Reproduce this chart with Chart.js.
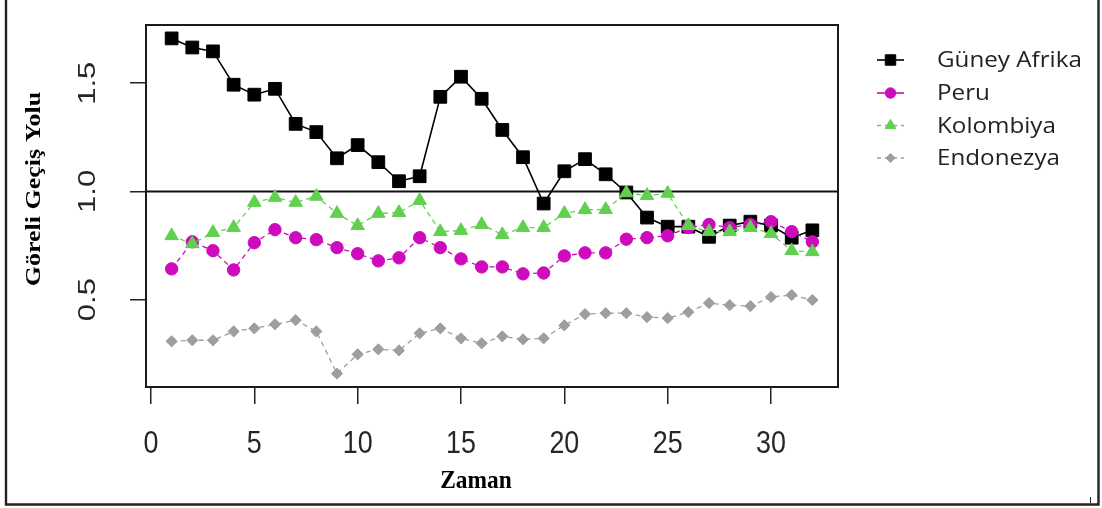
<!DOCTYPE html>
<html>
<head>
<meta charset="utf-8">
<script src="https://cdn.jsdelivr.net/npm/chart.js@4/dist/chart.umd.min.js"></script>
<style>
  html, body { margin: 0; padding: 0; background: #ffffff; }
  #wrap { width: 1102px; height: 508px; position: relative; }
  canvas { display: block; }
</style>
</head>
<body>
<div id="wrap"><canvas id="chart" width="1102" height="508"></canvas></div>
<script>
// Time index and relative transmission path per country
const timePoints = [1,2,3,4,5,6,7,8,9,10,11,12,13,14,15,16,17,18,19,20,21,22,23,24,25,26,27,28,29,30,31,32];
const guneyAfrika = [1.707,1.665,1.647,1.493,1.447,1.474,1.312,1.274,1.153,1.214,1.135,1.047,1.070,1.437,1.530,1.428,1.284,1.158,0.944,1.093,1.149,1.079,0.995,0.879,0.837,0.837,0.790,0.842,0.860,0.842,0.786,0.820];
const peru        = [0.642,0.767,0.726,0.637,0.763,0.823,0.786,0.777,0.740,0.712,0.679,0.693,0.786,0.740,0.688,0.651,0.651,0.619,0.623,0.702,0.716,0.716,0.779,0.786,0.795,0.833,0.847,0.833,0.847,0.860,0.814,0.767];
const kolombiya   = [0.795,0.758,0.810,0.833,0.949,0.972,0.949,0.977,0.898,0.842,0.898,0.902,0.958,0.814,0.819,0.847,0.800,0.833,0.833,0.898,0.916,0.916,0.993,0.981,0.991,0.842,0.814,0.814,0.833,0.805,0.726,0.721];
const endonezya   = [0.307,0.312,0.312,0.353,0.367,0.386,0.405,0.353,0.158,0.247,0.270,0.265,0.344,0.367,0.321,0.298,0.330,0.316,0.321,0.381,0.433,0.437,0.437,0.419,0.414,0.442,0.484,0.474,0.470,0.512,0.521,0.498];

const seriesNames = ['Güney Afrika', 'Peru', 'Kolombiya', 'Endonezya'];
const xTickValues = [0, 5, 10, 15, 20, 25, 30];
const yTickValues = [0.5, 1.0, 1.5];
const yTickLabels = ['0.5', '1.0', '1.5'];
const referenceLevel = 1.0;
const xTitle = 'Zaman';
const yTitle = 'Göreli Geçiş Yolu';

// Axis limits: data range widened by 4% on each side
function paddedRange(values) {
  const lo = Math.min(...values), hi = Math.max(...values);
  const pad = (hi - lo) * 0.04;
  return [lo - pad, hi + pad];
}
const [xMin, xMax] = paddedRange(timePoints);
const [yMin, yMax] = paddedRange([...guneyAfrika, ...peru, ...kolombiya, ...endonezya]);

const toPoints = arr => arr.map((v, i) => ({ x: timePoints[i], y: v }));

const styles = [
  { color: '#000000', pointStyle: 'rect',     radius: 9.0, width: 1.6, dash: [],     legendDash: [],     legendRadius: 7.4, order: 4 },
  { color: '#CD0BBC', pointStyle: 'circle',   radius: 6.2, width: 1.3, dash: [5, 4], legendDash: [],     legendRadius: 5.2, order: 3 },
  { color: '#61D04F', pointStyle: 'triangle', radius: 7.8, width: 1.3, dash: [5, 4], legendDash: [4, 4], legendRadius: 6.2, order: 2 },
  { color: '#9E9E9E', pointStyle: 'rectRot',  radius: 5.6, width: 1.3, dash: [5, 4], legendDash: [4, 4], legendRadius: 4.6, order: 1 }
];
const seriesValues = [guneyAfrika, peru, kolombiya, endonezya];

const datasets = seriesValues.map((vals, i) => ({
  label: seriesNames[i],
  data: toPoints(vals),
  borderColor: styles[i].color,
  backgroundColor: styles[i].color,
  borderWidth: styles[i].width,
  borderDash: styles[i].dash,
  pointStyle: styles[i].pointStyle,
  pointRadius: styles[i].radius,
  pointHoverRadius: styles[i].radius,
  pointBorderWidth: 1,
  pointBackgroundColor: styles[i].color,
  pointBorderColor: styles[i].color,
  tension: 0,
  fill: false,
  order: styles[i].order,
  clip: false
}));

// Draw text squeezed or stretched horizontally, optionally rotated
function squeezedText(ctx, text, x, y, font, scaleX, rotate, align, baseline, color) {
  ctx.save();
  ctx.translate(x, y);
  ctx.scale(scaleX, 1);
  if (rotate) ctx.rotate(-Math.PI / 2);
  ctx.font = font;
  ctx.fillStyle = color;
  ctx.textAlign = align;
  ctx.textBaseline = baseline;
  ctx.fillText(text, 0, 0);
  ctx.restore();
}

const decorations = {
  id: 'decorations',
  beforeDatasetsDraw(chart) {
    const { ctx, chartArea: a, scales: { y } } = chart;
    const yy = y.getPixelForValue(referenceLevel);
    ctx.save();
    ctx.strokeStyle = '#111111';
    ctx.lineWidth = 2;
    ctx.beginPath();
    ctx.moveTo(a.left, yy);
    ctx.lineTo(a.right, yy);
    ctx.stroke();
    ctx.restore();
  },
  afterDraw(chart) {
    const { ctx, chartArea: a, scales: { x, y } } = chart;
    ctx.save();

    // plot box
    ctx.strokeStyle = '#1a1a1a';
    ctx.lineWidth = 2;
    ctx.strokeRect(a.left, a.top, a.right - a.left, a.bottom - a.top);

    // outer frame (left, right, bottom)
    ctx.strokeStyle = '#222222';
    ctx.lineWidth = 2.4;
    ctx.beginPath();
    ctx.moveTo(6, 0); ctx.lineTo(6, 504.5); ctx.lineTo(1098.5, 504.5); ctx.lineTo(1098.5, 0);
    ctx.stroke();
    ctx.lineWidth = 1;
    ctx.beginPath();
    ctx.moveTo(1090.5, 497); ctx.lineTo(1090.5, 503);
    ctx.stroke();

    // x tick labels
    xTickValues.forEach(v => {
      squeezedText(ctx, String(v), x.getPixelForValue(v), 453,
        '32px "Liberation Sans", Arial, sans-serif', 0.84, false, 'center', 'alphabetic', '#262626');
    });
    // y tick labels (rotated)
    yTickValues.forEach((v, i) => {
      squeezedText(ctx, yTickLabels[i], 88, y.getPixelForValue(v),
        '31px "Liberation Sans", Arial, sans-serif', 0.8, true, 'center', 'middle', '#262626');
    });

    // axis titles
    squeezedText(ctx, xTitle, 476, 488,
      'bold 26px "Liberation Serif", "Times New Roman", serif', 0.9, false, 'center', 'alphabetic', '#000000');
    squeezedText(ctx, yTitle, 35, 189,
      'bold 26px "Liberation Serif", "Times New Roman", serif', 0.78, true, 'center', 'middle', '#000000');

    // legend
    const rowY = [60, 93, 125.5, 158];
    const legendFont = '22px "Open Sans", "Noto Sans", sans-serif';
    seriesNames.forEach((name, i) => {
      const s = styles[i];
      const cy = rowY[i];
      ctx.save();
      ctx.strokeStyle = s.color;
      ctx.lineWidth = 1.6;
      ctx.setLineDash(s.legendDash);
      ctx.beginPath();
      ctx.moveTo(877, cy);
      ctx.lineTo(904, cy);
      ctx.stroke();
      ctx.setLineDash([]);
      ctx.fillStyle = s.color;
      ctx.strokeStyle = s.color;
      ctx.lineWidth = 1;
      Chart.helpers.drawPoint(ctx, { pointStyle: s.pointStyle, radius: s.legendRadius, rotation: 0, borderWidth: 1 }, 890.5, cy);
      ctx.restore();
      squeezedText(ctx, name, 937, cy + 7, legendFont, 1.1, false, 'left', 'alphabetic', '#222222');
    });

    ctx.restore();
  }
};

new Chart(document.getElementById('chart'), {
  type: 'line',
  data: { datasets },
  options: {
    responsive: false,
    devicePixelRatio: 1,
    animation: false,
    events: [],
    layout: { padding: { left: 146, top: 25, right: 264, bottom: 121 } },
    plugins: { legend: { display: false }, tooltip: { enabled: false }, title: { display: false } },
    scales: {
      x: {
        type: 'linear',
        position: 'bottom',
        min: xMin,
        max: xMax,
        afterBuildTicks: s => { s.ticks = xTickValues.map(v => ({ value: v })); },
        afterFit: s => { s.height = 0; },
        ticks: { display: false },
        grid: { display: true, drawOnChartArea: false, drawTicks: true, tickLength: 17, color: '#222222', lineWidth: 1.5 },
        border: { display: false }
      },
      y: {
        type: 'linear',
        position: 'left',
        min: yMin,
        max: yMax,
        afterBuildTicks: s => { s.ticks = yTickValues.map(v => ({ value: v })); },
        afterFit: s => { s.width = 0; },
        ticks: { display: false },
        grid: { display: true, drawOnChartArea: false, drawTicks: true, tickLength: 16, color: '#222222', lineWidth: 1.5 },
        border: { display: false }
      }
    }
  },
  plugins: [decorations]
});
</script>
</body>
</html>
